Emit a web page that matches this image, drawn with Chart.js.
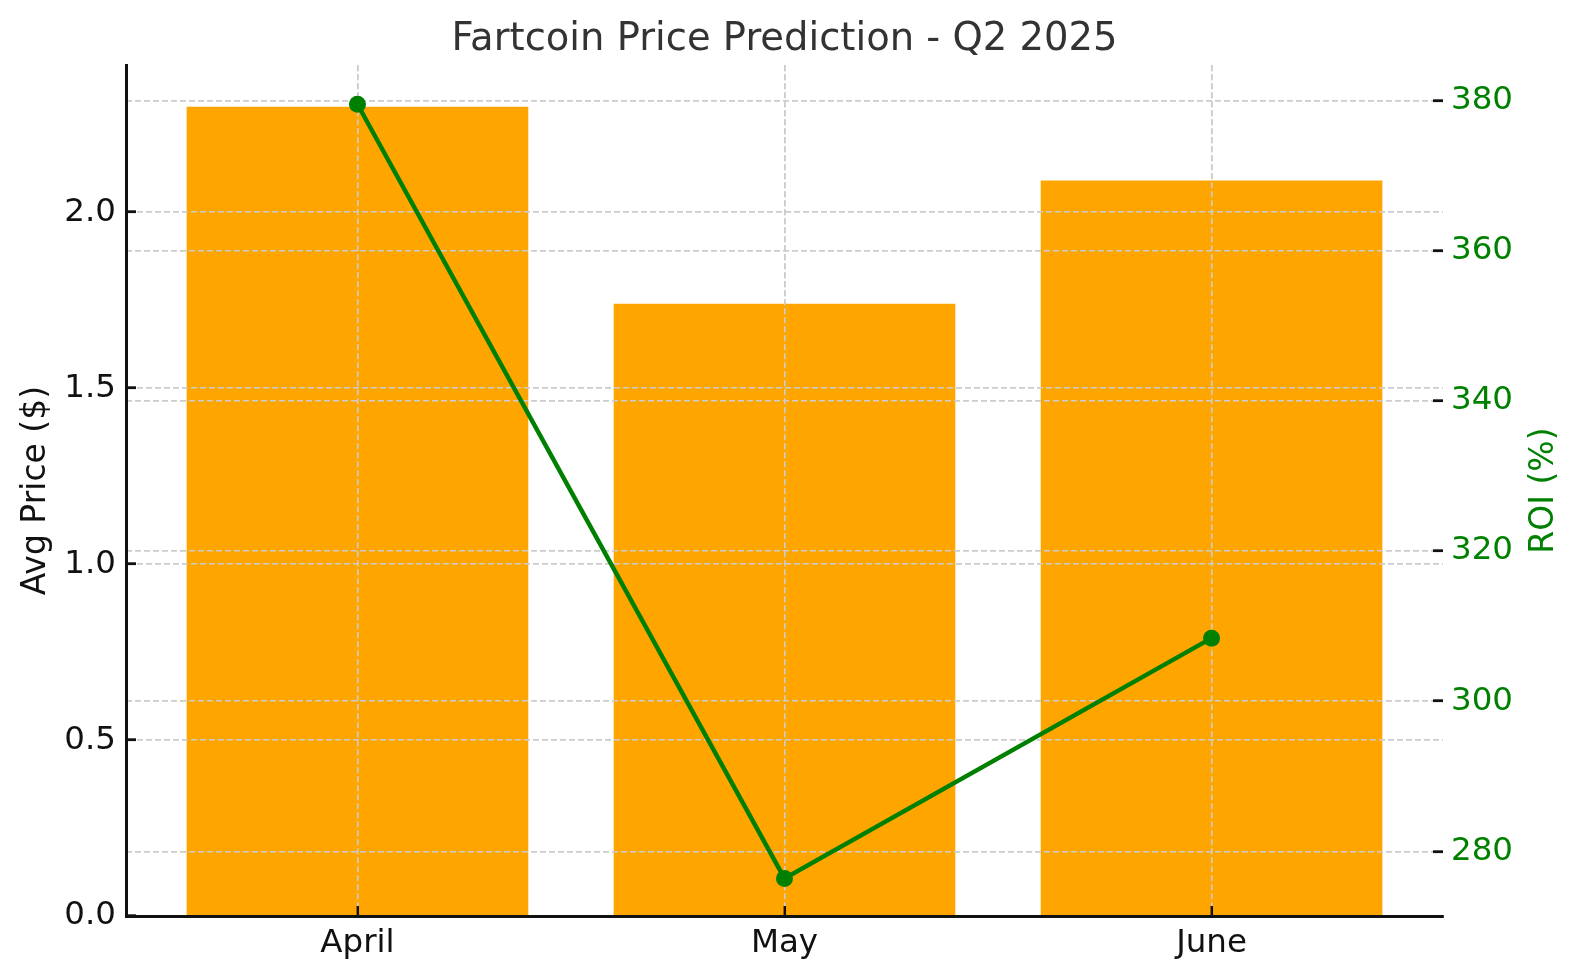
<!DOCTYPE html>
<html>
<head>
<meta charset="utf-8">
<title>Fartcoin Price Prediction - Q2 2025</title>
<script src="https://cdn.jsdelivr.net/npm/chart.js@4/dist/chart.umd.min.js"></script>
<style>
  html, body { margin: 0; padding: 0; background: #ffffff; overflow: hidden; }
  #wrap { width: 1580px; height: 980px; position: relative; overflow: hidden; }
  #priceChart { display: block; }
</style>
</head>
<body>
<div id="wrap"><canvas id="priceChart"></canvas></div>
<script>
// data
const months = ['April', 'May', 'June'];
const avgPrice = [2.30, 1.74, 2.09];
const roi = [379.5, 276.4, 308.4];
const priceTicks = [0, 0.5, 1.0, 1.5, 2.0];
const roiTicks = [280, 300, 320, 340, 360, 380];

const FONT = "'DejaVu Sans', 'Liberation Sans', sans-serif";
const GRID = '#cccccc';
const INK = '#111111';

// matplotlib puts the grid above the bars but below the line, and the spines on top
const gridOverBars = {
    id: 'gridOverBars',
    afterDatasetDraw(chart, args) {
        if (chart.data.datasets[args.index].type !== 'bar') return;
        const ctx = chart.ctx;
        ctx.save();
        Object.values(chart.scales).forEach(scale => {
            scale.drawGrid(chart.chartArea);
        });
        ctx.restore();
    },
    afterDatasetsDraw(chart) {
        Object.values(chart.scales).forEach(scale => scale.drawBorder());
    }
};

// right axis label reads bottom to top like matplotlib
const roiLabel = {
    id: 'roiLabel',
    afterDraw(chart, args, opts) {
        const ctx = chart.ctx;
        const area = chart.chartArea;
        ctx.save();
        ctx.translate(opts.x, (area.top + area.bottom) / 2);
        ctx.rotate(-Math.PI / 2);
        ctx.font = opts.size + 'px ' + FONT;
        ctx.fillStyle = opts.color;
        ctx.textAlign = 'center';
        ctx.textBaseline = 'middle';
        ctx.fillText(opts.text, 0, 0);
        ctx.restore();
    }
};

const gridOpts = {
    color: GRID,
    lineWidth: 1.6,
    offset: false,
    drawTicks: true,
    tickLength: -10,
    tickColor: INK,
    tickWidth: 2.5
};

const ctx = document.getElementById('priceChart').getContext('2d');
new Chart(ctx, {
    data: {
        datasets: [
            {
                type: 'line',
                label: 'ROI (%)',
                data: roi.map((v, i) => ({ x: i, y: v })),
                yAxisID: 'y1',
                borderColor: '#008000',
                backgroundColor: '#008000',
                borderWidth: 4.5,
                pointRadius: 8.5,
                pointBorderWidth: 0,
                tension: 0,
                order: 0
            },
            {
                type: 'bar',
                label: 'Avg Price ($)',
                data: avgPrice.map((v, i) => ({ x: i, y: v })),
                yAxisID: 'y',
                backgroundColor: '#FFA500',
                borderWidth: 0,
                categoryPercentage: 1.0,
                barPercentage: 0.8,
                order: 1
            }
        ]
    },
    options: {
        responsive: true,
        maintainAspectRatio: false,
        animation: false,
        events: [],
        layout: { padding: 0 },
        scales: {
            x: {
                type: 'linear',
                position: 'bottom',
                offset: false,
                min: -0.542,
                max: 2.542,
                afterBuildTicks: scale => {
                    scale.ticks = months.map((m, i) => ({ value: i }));
                },
                afterFit: scale => { scale.height = 64; },
                ticks: {
                    callback: value => months[value],
                    color: INK,
                    padding: 18,
                    maxRotation: 0,
                    font: { family: FONT, size: 32.5 }
                },
                grid: gridOpts,
                border: { display: true, color: INK, width: 3, dash: [6, 3] }
            },
            y: {
                type: 'linear',
                position: 'left',
                min: 0,
                max: 2.418,
                afterBuildTicks: scale => {
                    scale.ticks = priceTicks.map(v => ({ value: v }));
                },
                afterFit: scale => { scale.width = 126; },
                ticks: {
                    callback: value => value.toFixed(1),
                    color: INK,
                    padding: 20,
                    font: { family: FONT, size: 32.5 }
                },
                title: {
                    display: true,
                    text: 'Avg Price ($)',
                    color: INK,
                    padding: { top: 17, bottom: 0 },
                    font: { family: FONT, size: 33 }
                },
                grid: gridOpts,
                border: { display: true, color: INK, width: 3, dash: [6, 3] }
            },
            y1: {
                type: 'linear',
                position: 'right',
                min: 271.4,
                max: 384.7,
                afterBuildTicks: scale => {
                    scale.ticks = roiTicks.map(v => ({ value: v }));
                },
                afterFit: scale => { scale.width = 137; },
                ticks: {
                    callback: value => String(value),
                    color: '#008000',
                    padding: 18,
                    font: { family: FONT, size: 32.5 }
                },
                grid: gridOpts,
                border: { display: false, dash: [6, 3] }
            }
        },
        plugins: {
            legend: { display: false },
            tooltip: { enabled: false },
            title: {
                display: true,
                text: 'Fartcoin Price Prediction - Q2 2025',
                fullSize: false,
                color: '#333333',
                padding: { top: 17, bottom: 2 },
                font: { family: FONT, size: 38.5, weight: 'normal', lineHeight: 1.2 }
            },
            roiLabel: { text: 'ROI (%)', x: 1544, size: 33, color: '#008000' }
        }
    },
    plugins: [gridOverBars, roiLabel]
});
</script>
</body>
</html>
